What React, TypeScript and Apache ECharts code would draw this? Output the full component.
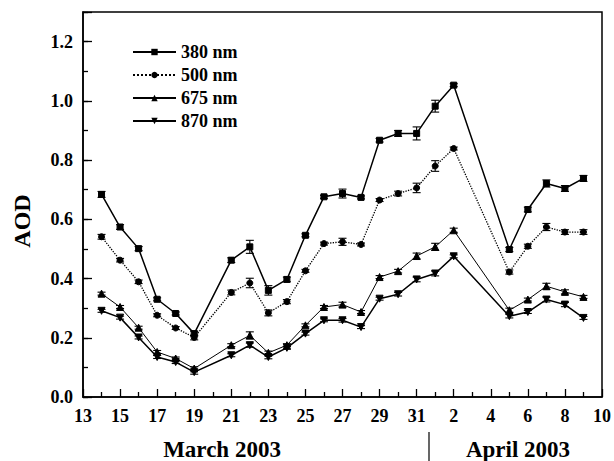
import React, { useEffect, useRef } from "react";
import * as echarts from "echarts";

// Observation dates (month-day), March–April 2003
const obsDates = [
  "3-14", "3-15", "3-16", "3-17", "3-18", "3-19", "3-21", "3-22", "3-23", "3-24",
  "3-25", "3-26", "3-27", "3-28", "3-29", "3-30", "3-31", "4-1", "4-2", "4-5",
  "4-6", "4-7", "4-8", "4-9",
];

// Aerosol optical depth per wavelength
const aod380 = [0.684, 0.574, 0.501, 0.330, 0.282, 0.214, 0.462, 0.507, 0.360, 0.397, 0.546, 0.676, 0.687, 0.674, 0.867, 0.890, 0.890, 0.982, 1.053, 0.498, 0.633, 0.721, 0.704, 0.738];
const aod500 = [0.541, 0.462, 0.389, 0.276, 0.233, 0.201, 0.353, 0.385, 0.284, 0.322, 0.426, 0.518, 0.524, 0.515, 0.665, 0.687, 0.706, 0.780, 0.839, 0.422, 0.509, 0.574, 0.557, 0.557];
const aod675 = [0.349, 0.304, 0.234, 0.152, 0.130, 0.096, 0.175, 0.208, 0.149, 0.175, 0.242, 0.304, 0.312, 0.287, 0.405, 0.425, 0.476, 0.507, 0.563, 0.293, 0.329, 0.374, 0.355, 0.338];
const aod870 = [0.291, 0.268, 0.201, 0.135, 0.118, 0.084, 0.141, 0.175, 0.135, 0.166, 0.214, 0.259, 0.259, 0.236, 0.332, 0.347, 0.397, 0.417, 0.475, 0.273, 0.287, 0.329, 0.312, 0.267];

// Standard deviations (error bar half-heights)
const err380 = [0.010, 0.008, 0.007, 0.005, 0.005, 0.008, 0.008, 0.022, 0.016, 0.008, 0.005, 0.005, 0.015, 0.005, 0.006, 0.010, 0.022, 0.020, 0.005, 0.007, 0.008, 0.012, 0.010, 0.010];
const err500 = [0.008, 0.006, 0.006, 0.005, 0.005, 0.008, 0.008, 0.016, 0.010, 0.007, 0.005, 0.005, 0.012, 0.005, 0.005, 0.008, 0.016, 0.018, 0.005, 0.007, 0.007, 0.012, 0.008, 0.008];
const err675 = [0.005, 0.005, 0.005, 0.005, 0.005, 0.006, 0.005, 0.012, 0.006, 0.005, 0.005, 0.005, 0.008, 0.005, 0.005, 0.006, 0.010, 0.012, 0.007, 0.007, 0.005, 0.010, 0.007, 0.005];
const err870 = [0.005, 0.005, 0.005, 0.005, 0.005, 0.007, 0.005, 0.007, 0.006, 0.005, 0.005, 0.005, 0.006, 0.005, 0.005, 0.006, 0.008, 0.008, 0.005, 0.006, 0.005, 0.008, 0.007, 0.005];

// Day-of-month tick labels, every second day from 13 March to 10 April
const dayTickLabels = ["13", "15", "17", "19", "21", "23", "25", "27", "29", "31", "2", "4", "6", "8", "10"];

const seriesNames = ["380 nm", "500 nm", "675 nm", "870 nm"];

const FONT = "'Liberation Serif', 'Times New Roman', serif";

// days elapsed since 13 March
const dayOffset = (d: string) => {
  const [m, day] = d.split("-").map(Number);
  return m === 3 ? day - 13 : 18 + day;
};

export default function App() {
  const ref = useRef<HTMLDivElement>(null);

  useEffect(() => {
    if (!ref.current) return;
    const chart = echarts.init(ref.current, null, { renderer: "svg" });
    const xs = obsDates.map(dayOffset);

    const lineData = (vals: number[]) => vals.map((v, i) => [xs[i], v]);
    const errData = (vals: number[], errs: number[]) =>
      vals.map((v, i) => [xs[i], v - errs[i], v + errs[i]]);

    const errorBars = (name: string, vals: number[], errs: number[]) => ({
      type: "custom",
      name: name + " err",
      xAxisIndex: 0,
      yAxisIndex: 0,
      z: 3,
      silent: true,
      data: errData(vals, errs),
      renderItem: (_p: any, api: any) => {
        const x = api.value(0);
        const top = api.coord([x, api.value(2)]);
        const bot = api.coord([x, api.value(1)]);
        const w = 4;
        const st = { stroke: "#000", lineWidth: 1.1 };
        return {
          type: "group",
          children: [
            { type: "line", shape: { x1: top[0], y1: top[1], x2: bot[0], y2: bot[1] }, style: st },
            { type: "line", shape: { x1: top[0] - w, y1: top[1], x2: top[0] + w, y2: top[1] }, style: st },
            { type: "line", shape: { x1: bot[0] - w, y1: bot[1], x2: bot[0] + w, y2: bot[1] }, style: st },
          ],
        };
      },
    });

    const lineSeries = (
      name: string,
      vals: number[],
      symbol: string,
      symbolSize: number,
      lineType: string,
      width: number
    ) => ({
      type: "line",
      name,
      xAxisIndex: 0,
      yAxisIndex: 0,
      z: 4,
      data: lineData(vals),
      symbol,
      symbolSize,
      showAllSymbol: true,
      itemStyle: { color: "#000", borderColor: "#000" },
      lineStyle: { color: "#000", width, type: lineType },
    });

    const tickLabel = {
      color: "#000",
      fontFamily: FONT,
      fontWeight: "bold",
      fontSize: 18,
    };

    chart.setOption({
      animation: false,
      backgroundColor: "#fff",
      grid: {
        left: 83,
        right: 8,
        top: 12,
        bottom: 64,
        show: true,
        borderColor: "#000",
        borderWidth: 1.5,
        backgroundColor: "transparent",
      },
      legend: {
        data: seriesNames,
        orient: "vertical",
        left: 132,
        top: 43,
        padding: 0,
        itemWidth: 43,
        itemHeight: 8,
        itemGap: 5,
        textStyle: { ...tickLabel, fontSize: 18, padding: [0, 0, 0, 0] },
        selectedMode: false,
      },
      xAxis: {
        type: "value",
        min: 0,
        max: 28,
        interval: 2,
        axisLine: { lineStyle: { color: "#000", width: 1.5 } },
        axisTick: { inside: true, length: 8, lineStyle: { color: "#000", width: 1.3 } },
        minorTick: { show: true, splitNumber: 2, length: 5, lineStyle: { color: "#000", width: 1.3 } },
        splitLine: { show: false },
        axisLabel: {
          ...tickLabel,
          margin: 10,
          formatter: (v: number) => dayTickLabels[Math.round(v / 2)] ?? "",
        },
      },
      yAxis: [
        {
          type: "value",
          min: 0,
          max: 1.3,
          interval: 0.1,
          axisLine: { show: true, lineStyle: { color: "#000", width: 1.5 } },
          axisTick: { inside: true, length: 5, lineStyle: { color: "#000", width: 1.3 } },
          splitLine: { show: false },
          axisLabel: {
            ...tickLabel,
            margin: 10,
            formatter: (v: number) => {
              const k = Math.round(v * 10);
              return k % 2 === 0 && k <= 12 ? (k / 10).toFixed(1) : "";
            },
          },
        },
        {
          type: "value",
          position: "left",
          min: 0,
          max: 1.3,
          interval: 0.2,
          axisLine: { show: false },
          axisTick: { inside: true, length: 9, lineStyle: { color: "#000", width: 1.3 } },
          splitLine: { show: false },
          axisLabel: { show: false },
        },
      ],
      graphic: [
        {
          type: "text",
          x: 22,
          y: 221,
          rotation: Math.PI / 2,
          style: {
            text: "AOD",
            fill: "#000",
            font: `bold 24px ${FONT}`,
            textAlign: "center",
            textVerticalAlign: "middle",
          },
        },
        {
          type: "text",
          x: 222,
          y: 449,
          style: {
            text: "March 2003",
            fill: "#000",
            font: `bold 23px ${FONT}`,
            textAlign: "center",
            textVerticalAlign: "middle",
          },
        },
        {
          type: "text",
          x: 518,
          y: 449,
          style: {
            text: "April 2003",
            fill: "#000",
            font: `bold 23px ${FONT}`,
            textAlign: "center",
            textVerticalAlign: "middle",
          },
        },
        {
          type: "line",
          shape: { x1: 429, y1: 432, x2: 429, y2: 461 },
          style: { stroke: "#000", lineWidth: 1.2 },
        },
      ],
      series: [
        errorBars("380 nm", aod380, err380),
        errorBars("500 nm", aod500, err500),
        errorBars("675 nm", aod675, err675),
        errorBars("870 nm", aod870, err870),
        lineSeries("380 nm", aod380, "rect", 6, "solid", 1.5),
        lineSeries("500 nm", aod500, "circle", 6, "dotted", 1.3),
        lineSeries("675 nm", aod675, "triangle", 7, "solid", 1),
        lineSeries("870 nm", aod870, "path://M0,0 L10,0 L5,9 Z", 7, "solid", 1.5),
      ],
    });

    return () => chart.dispose();
  }, []);

  return (
    <div
      ref={ref}
      style={{ position: "fixed", left: 0, top: 0, width: 614, height: 461, background: "#fff" }}
    />
  );
}
